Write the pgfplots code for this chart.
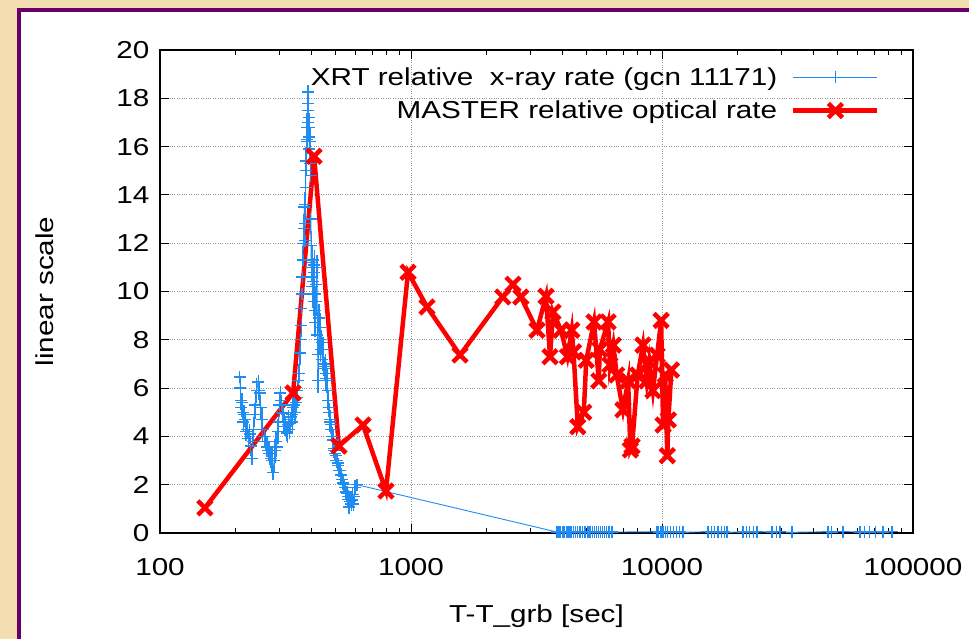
\documentclass[border=0pt]{standalone}
\usepackage{fontspec}
\setmainfont{Liberation Sans}[FakeStretch=1.21]
\usepackage{pgfplots}
\pgfplotsset{compat=1.18}
\definecolor{parch}{RGB}{243,222,178}
\definecolor{framec}{RGB}{104,0,104}
\definecolor{xrtc}{RGB}{30,140,240}
\definecolor{gridc}{RGB}{150,150,150}
\newcommand{\bigf}{\fontsize{24.5pt}{29pt}\selectfont}
\begin{document}
\begin{tikzpicture}[x=1pt,y=1pt]
\fill[parch] (0,0) rectangle (969,639);
\fill[white] (19,0) rectangle (969,629);
\draw[framec, line width=4.5pt] (19,-5) -- (19,629) -- (975,629);
\begin{axis}[
  at={(160pt,106pt)}, anchor=south west,
  scale only axis, width=753pt, height=483pt,
  xmode=log, xmin=100, xmax=100000, ymin=0, ymax=20,
  xtick={100,1000,10000,100000},
  xticklabels={100,1000,10000,100000},
  ytick={0,2,...,20},
  /pgf/number format/assume math mode=true,
  tick label style={font=\bigf},
  xticklabel style={yshift=-22pt},
  yticklabel style={xshift=-7pt},
  tick align=inside,
  major tick length=9pt, minor tick length=5pt,
  every tick/.style={black, line width=0.8pt},
  axis line style={black, line width=1.2pt},
  grid=major,
  major grid style={gridc, dotted, line width=1pt},
  xlabel={T-T\_grb [sec]},
  ylabel={linear scale},
  label style={font=\bigf},
  x label style={at={(axis description cs:0.5,-0.172)}, anchor=center},
  y label style={at={(axis description cs:-0.1527,0.5)}, anchor=center, rotate=0},
  clip=false,
  legend cell align=right,
  legend plot pos=right,
  legend style={draw=none, fill=none, font=\bigf, at={(0.96,0.972)}, anchor=north east, row sep=10pt, column sep=12pt},
  legend image code/.code={\draw[mark repeat=2,mark phase=2,#1] plot coordinates {(0pt,0pt)(42pt,0pt)(84pt,0pt)};},
]
\addlegendimage{xrtc, line width=1.2pt, mark=+, mark size=6pt, mark options={xrtc, line width=1.2pt}}
\addlegendentry{XRT relative\ \ x-ray rate (gcn 11171)}
\addplot[forget plot, xrtc, line width=0.9pt, mark=+, mark size=6pt, mark options={line width=1.2pt},
  error bars/.cd, y dir=both, y explicit, error mark=none,
  error bar style={xrtc, line width=1.2pt}] coordinates {
(208,6.46) +- (0,0.2) (209,6.0) +- (0,0.4) (210,5.5) +- (0,0.4) (211,5.2) +- (0,0.4) (212,5.4) +- (0,0.4)
(214,5.0) +- (0,0.3) (215,4.6) +- (0,0.4) (217,4.9) +- (0,0.4) (218,4.7) +- (0,0.3) (220,4.2) +- (0,0.4)
(222,4.3) +- (0,0.4) (225,3.9) +- (0,0.4) (228,4.1) +- (0,0.4) (230,3.6) +- (0,0.4) (232.6,3.1) +- (0,0.3)
(234,3.8) +- (0,0.5) (236,4.3) +- (0,0.5) (238,4.9) +- (0,0.5) (240,5.3) +- (0,0.6) (243,5.9) +- (0,0.5)
(246,6.25) +- (0,0.3) (248,5.9) +- (0,0.4) (250,5.8) +- (0,0.5) (252,5.2) +- (0,0.5) (255,4.7) +- (0,0.5)
(257,4.3) +- (0,0.5) (260,4.0) +- (0,0.4) (263,3.8) +- (0,0.4) (267,3.56) +- (0,0.4) (270,3.4) +- (0,0.4)
(273,3.3) +- (0,0.5) (276,3.1) +- (0,0.4) (279.5,3.0) +- (0,0.5) (282,2.5) +- (0,0.3) (285,3.0) +- (0,0.5)
(287,3.4) +- (0,0.5) (290,3.8) +- (0,0.4) (292,3.56) +- (0,0.4) (295,4.2) +- (0,0.5) (297,4.6) +- (0,0.5)
(299,5.3) +- (0,0.5) (301,5.8) +- (0,0.3) (303,5.5) +- (0,0.4) (305,5.3) +- (0,0.4) (307,5.0) +- (0,0.4)
(309,4.97) +- (0,0.4) (312,4.6) +- (0,0.4) (315,4.4) +- (0,0.4) (318,4.2) +- (0,0.4) (321,4.14) +- (0,0.4)
(324,4.5) +- (0,0.4) (326,4.7) +- (0,0.4) (328,4.3) +- (0,0.4) (330,4.55) +- (0,0.4) (333,4.8) +- (0,0.4)
(335,4.9) +- (0,0.4) (337,4.6) +- (0,0.4) (339,5.2) +- (0,0.4) (342,5.3) +- (0,0.4) (345,5.0) +- (0,0.4)
(348,5.4) +- (0,0.4) (351.5,5.6) +- (0,0.4) (353,5.9) +- (0,0.4) (355,6.3) +- (0,0.4) (358,6.6) +- (0,0.4)
(361,7.45) +- (0,0.5) (363,8.0) +- (0,0.5) (365,8.6) +- (0,0.5) (366,9.3) +- (0,0.5) (368,9.9) +- (0,0.5)
(369,10.6) +- (0,0.6) (371,11.3) +- (0,0.6) (372,12.0) +- (0,0.6) (374,12.6) +- (0,0.6) (376,13.5) +- (0,0.6)
(377,12.8) +- (0,0.6) (378,12.1) +- (0,0.6) (379,13.6) +- (0,0.6) (380,14.3) +- (0,0.6) (381,15.0) +- (0,0.6)
(382,15.4) +- (0,0.6) (384,16.2) +- (0,0.6) (385,16.8) +- (0,0.6) (386,16.3) +- (0,0.6) (387,17.5) +- (0,0.6)
(388,17.0) +- (0,0.6) (389,18.26) +- (0,0.3) (390,17.8) +- (0,0.6) (391,17.2) +- (0,0.6) (392,16.8) +- (0,0.6)
(393,16.4) +- (0,0.6) (394,15.9) +- (0,0.6) (396,16.2) +- (0,0.6) (397,15.3) +- (0,0.6) (398,14.8) +- (0,0.6)
(399,13.0) +- (0,0.6) (400,11.0) +- (0,0.6) (401,11.9) +- (0,0.6) (403,11.2) +- (0,0.6) (404,10.2) +- (0,0.6)
(405,10.6) +- (0,0.6) (406,11.3) +- (0,0.6) (407,9.9) +- (0,0.6) (408,10.4) +- (0,0.6) (410,10.8) +- (0,0.6)
(411,9.6) +- (0,0.6) (412,11.1) +- (0,0.6) (413,9.9) +- (0,0.6) (414.5,8.7) +- (0,0.6) (416,9.2) +- (0,0.6)
(418,9.6) +- (0,0.6) (420,10.3) +- (0,0.6) (422,11.0) +- (0,0.5) (424,8.2) +- (0,0.6) (426,6.3) +- (0,0.5)
(428,7.4) +- (0,0.6) (430,8.9) +- (0,0.6) (432,8.0) +- (0,0.6) (434,8.5) +- (0,0.6) (437,7.6) +- (0,0.5)
(440,7.9) +- (0,0.5) (443,7.2) +- (0,0.5) (446,7.6) +- (0,0.5) (449,7.0) +- (0,0.5) (452,6.8) +- (0,0.5)
(455,6.9) +- (0,0.5) (458,6.4) +- (0,0.5) (460,6.6) +- (0,0.5) (463,6.3) +- (0,0.5) (465,5.9) +- (0,0.5)
(467,5.5) +- (0,0.4) (470,5.2) +- (0,0.4) (472,5.0) +- (0,0.4) (474,4.6) +- (0,0.4) (476,4.7) +- (0,0.4)
(479,4.5) +- (0,0.4) (482,4.3) +- (0,0.4) (486,4.0) +- (0,0.4) (489,3.85) +- (0,0.4) (492,3.5) +- (0,0.4)
(495,3.4) +- (0,0.4) (498,3.3) +- (0,0.3) (501,3.2) +- (0,0.3) (504,3.0) +- (0,0.3) (507,3.0) +- (0,0.3)
(510,2.9) +- (0,0.3) (514,2.8) +- (0,0.3) (517,2.6) +- (0,0.3) (521,2.6) +- (0,0.3) (524,2.4) +- (0,0.3)
(528,2.4) +- (0,0.3) (532,2.2) +- (0,0.3) (536,2.07) +- (0,0.3) (540,2.0) +- (0,0.3) (545,1.9) +- (0,0.3)
(550,1.7) +- (0,0.3) (556,1.66) +- (0,0.3) (559,1.4) +- (0,0.3) (562,1.5) +- (0,0.3) (566,1.08) +- (0,0.3)
(570,1.3) +- (0,0.3) (574,1.4) +- (0,0.3) (578,1.2) +- (0,0.3) (582,1.37) +- (0,0.3) (586,1.6) +- (0,0.3)
(590,1.2) +- (0,0.3) (594,1.5) +- (0,0.3) (598,1.9) +- (0,0.3) (609,2.0) +- (0,0.1)
(3816,0.04) +- (0,0.15) (3860,0.05) +- (0,0.15) (3900,0.06) +- (0,0.15) (3950,0.04) +- (0,0.15) (4000,0.03) +- (0,0.15)
(4050,0.05) +- (0,0.15) (4100,0.05) +- (0,0.15) (4150,0.04) +- (0,0.15) (4200,0.04) +- (0,0.15) (4250,0.05) +- (0,0.15)
(4300,0.06) +- (0,0.15) (4370,0.04) +- (0,0.15) (4450,0.03) +- (0,0.15) (4520,0.05) +- (0,0.15) (4600,0.05) +- (0,0.15)
(4680,0.04) +- (0,0.15) (4750,0.04) +- (0,0.15) (4820,0.05) +- (0,0.15) (4900,0.06) +- (0,0.15) (4970,0.04) +- (0,0.15)
(5050,0.03) +- (0,0.15) (5120,0.05) +- (0,0.15) (5200,0.05) +- (0,0.15) (5300,0.04) +- (0,0.15) (5400,0.04) +- (0,0.15)
(5500,0.05) +- (0,0.15) (5600,0.06) +- (0,0.15) (5700,0.04) +- (0,0.15) (5800,0.03) +- (0,0.15) (5900,0.05) +- (0,0.15)
(6000,0.05) +- (0,0.15) (6150,0.04) +- (0,0.15) (6320,0.04) +- (0,0.15)
(9552,0.05) +- (0,0.15) (9700,0.04) +- (0,0.15) (9900,0.03) +- (0,0.15) (10100,0.05) +- (0,0.15) (10300,0.06) +- (0,0.15)
(10550,0.04) +- (0,0.15) (10800,0.04) +- (0,0.15) (11100,0.05) +- (0,0.15) (11400,0.05) +- (0,0.15) (11750,0.04) +- (0,0.15)
(12130,0.03) +- (0,0.15)
(15250,0.05) +- (0,0.15) (15700,0.04) +- (0,0.15) (16200,0.04) +- (0,0.15) (16700,0.05) +- (0,0.15) (17200,0.06) +- (0,0.15)
(17700,0.04) +- (0,0.15) (18150,0.03) +- (0,0.15)
(21020,0.04) +- (0,0.15) (21700,0.05) +- (0,0.15) (22300,0.06) +- (0,0.15) (23100,0.04) +- (0,0.15) (23900,0.05) +- (0,0.15)
(27430,0.04) +- (0,0.15) (28500,0.06) +- (0,0.15) (29510,0.05) +- (0,0.15) (32960,0.03) +- (0,0.15)
(45830,0.05) +- (0,0.15) (47500,0.04) +- (0,0.15) (52600,0.06) +- (0,0.15)
(61500,0.04) +- (0,0.15) (64000,0.05) +- (0,0.15) (67000,0.03) +- (0,0.15) (71000,0.05) +- (0,0.15) (76000,0.04) +- (0,0.15)
(82500,0.05) +- (0,0.15)
};
\addplot[red, line width=4.5pt, mark=x, mark size=10pt, mark options={line width=4.5pt}] coordinates {
(151,1.04)(339,5.8)(411,15.6)(516,3.6)(644,4.47)(795,1.74)(973,10.8)(1158,9.36)(1568,7.37)(2320,9.77)
(2548,10.3)(2740,9.77)(3177,8.4)(3450,9.8)(3580,7.3)(3680,9.15)(3960,8.4)(4200,7.3)(4370,8.4)(4440,7.5)
(4620,4.4)(4880,5.0)(4990,7.15)(5360,8.74)(5600,6.3)(5650,7.6)(6100,8.74)(6200,6.96)(6400,7.78)(6600,6.54)
(6990,5.1)(7330,6.3)(7480,3.44)(7600,3.6)(8000,6.54)(8400,7.78)(8700,6.3)(8900,7.1)(9200,5.9)(9560,7.36)
(9920,8.8)(10100,4.47)(10300,6.54)(10500,3.2)(10600,4.68)(10900,6.75)
};
\addlegendentry{MASTER relative optical rate}
\end{axis}
\pgfresetboundingbox
\path[use as bounding box] (0,0) rectangle (969,639);
\end{tikzpicture}
\end{document}
